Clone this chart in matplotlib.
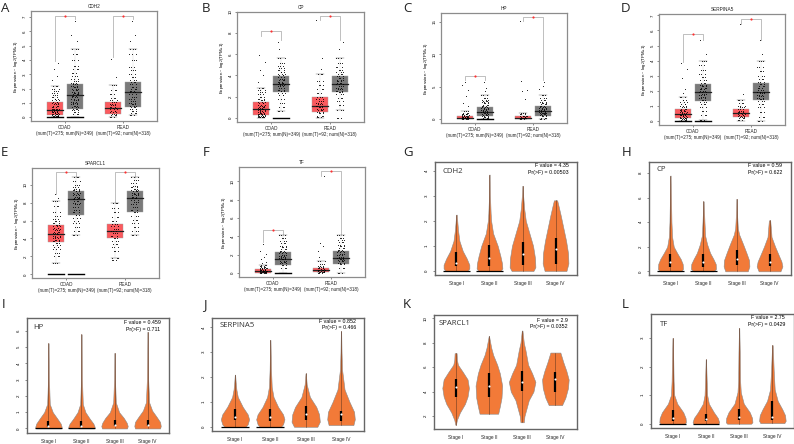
import matplotlib
matplotlib.use("Agg")
import matplotlib.pyplot as plt

plt.rcParams['font.family'] = ['Liberation Sans', 'DejaVu Sans']

W, H = 794, 444
# ---------- box panels: [whisker low, q1, median, q3, whisker high] for COAD T, COAD N, READ T, READ N
CDH2_box = [[0, .18, .5, 1.05, 2.2], [0, .6, 1.55, 2.3, 4.8], [0, .2, .63, 1.05, 2.25], [.15, .7, 1.77, 2.45, 4.8]]
CP_box = [[0, .28, .8, 1.45, 2.85], [.6, 2.4, 3.2, 3.95, 5.65], [0, .55, 1.07, 2.0, 4.1], [.75, 2.4, 3.2, 3.95, 5.65]]
HP_box = [[0, 0, .15, .5, 1.3], [0, .5, 1.1, 1.9, 3.7], [0, 0, .2, .5, 1.0], [0, .5, 1.3, 2.0, 3.7]]
SERPINA5_box = [[0, .2, .45, .8, 1.6], [.1, 1.3, 1.9, 2.45, 4.0], [0, .3, .53, .8, 1.4], [0, 1.4, 1.95, 2.5, 4.0]]
SPARCL1_box = [[1.3, 3.6, 4.55, 5.45, 8.2], [4.35, 6.6, 8.4, 9.25, 10.85], [1.85, 4.0, 4.85, 5.65, 7.95], [4.35, 6.9, 8.55, 9.3, 10.85]]
TF_box = [[0, 0, .18, .4, .9], [0, .9, 1.55, 2.3, 4.1], [.07, .07, .28, .6, 1.3], [0, 1.0, 1.63, 2.4, 4.1]]

CDH2_pts = [
    [.05, .08, .1, .15, .2, .25, .3, .35, .4, .45, .5, .55, .6, .7, .8, .9, 1, 1.1, 1.2, 1.3, 1.4, 1.55, 1.7, 1.85, 2, 2.2, 2.6, 2.9, 3.35, 3.8],
    [.05, .2, .4, .5, .6, .7, .8, .9, 1, 1.1, 1.2, 1.3, 1.4, 1.5, 1.6, 1.7, 1.8, 1.9, 2, 2.1, 2.2, 2.3, 2.4, 2.55, 2.7, 2.9, 3.1, 3.4, 3.6, 4.0, 4.4, 4.8, 5.35, 5.75, 6.75],
    [.05, .15, .25, .35, .45, .55, .65, .75, .85, .95, 1.05, 1.2, 1.35, 1.6, 1.9, 2.25, 2.8, 4.1],
    [.15, .3, .45, .6, .7, .8, .9, 1, 1.15, 1.3, 1.45, 1.6, 1.75, 1.85, 2, 2.15, 2.3, 2.45, 2.6, 2.8, 3, 3.3, 3.5, 4, 4.4, 4.8, 5.35, 5.75, 6.75],
]
CP_pts = [
    [.02, .05, .08, .12, .18, .25, .3, .35, .45, .55, .6, .7, .8, .9, 1, 1.1, 1.2, 1.35, 1.5, 1.65, 1.8, 2, 2.2, 2.4, 2.6, 2.85, 3.4, 4, 4.55, 5.25, 5.9],
    [.6, 1, 1.4, 1.8, 2.1, 2.3, 2.5, 2.65, 2.8, 2.95, 3.05, 3.2, 3.3, 3.4, 3.55, 3.7, 3.85, 4, 4.15, 4.3, 4.5, 4.7, 4.9, 5.2, 5.65, 6.5, 7.2],
    [.05, .2, .4, .55, .7, .85, 1, 1.1, 1.25, 1.4, 1.6, 1.8, 2, 2.3, 2.7, 3.1, 3.5, 4.1, 4.6, 5.6, 9.2],
    [0, .75, 1.2, 1.6, 1.9, 2.2, 2.4, 2.55, 2.7, 2.85, 3, 3.15, 3.3, 3.45, 3.6, 3.8, 3.95, 4.1, 4.3, 4.5, 4.8, 5.2, 5.65, 6.5, 7.2],
]
HP_pts = [
    [.02, .05, .08, .1, .15, .2, .25, .3, .35, .4, .5, .6, .7, .8, 1, 1.3, 2, 2.5, 3.5, 4.5, 5.3, 5.8],
    [.05, .2, .35, .5, .65, .8, .95, 1.1, 1.25, 1.4, 1.55, 1.7, 1.85, 2, 2.2, 2.4, 2.6, 2.8, 3, 3.3, 3.7, 4.3, 4.8, 5.8],
    [.03, .08, .15, .2, .3, .4, .5, .7, 1, 3.1, 4.3, 4.5, 5.9, 15.1],
    [.05, .2, .4, .55, .7, .85, 1, 1.15, 1.3, 1.45, 1.6, 1.75, 1.9, 2.05, 2.25, 2.45, 2.7, 3, 3.3, 3.7, 4.6, 5.1, 5.8],
]
SERPINA5_pts = [
    [.03, .08, .12, .18, .22, .28, .33, .38, .43, .5, .55, .6, .68, .75, .82, .9, 1, 1.1, 1.25, 1.4, 1.6, 1.85, 2.15, 2.85, 3.45, 3.85],
    [.1, .4, .7, .95, 1.1, 1.25, 1.4, 1.5, 1.6, 1.7, 1.8, 1.9, 2, 2.1, 2.2, 2.3, 2.4, 2.55, 2.7, 2.9, 3.1, 3.4, 3.7, 4, 4.45, 5.4],
    [.1, .2, .3, .35, .42, .5, .55, .62, .7, .8, .9, 1, 1.2, 1.4, 1.8, 6.4],
    [0, .3, .6, .9, 1.15, 1.3, 1.45, 1.55, 1.65, 1.75, 1.85, 1.95, 2.05, 2.2, 2.3, 2.45, 2.6, 2.8, 3, 3.3, 3.6, 4, 4.45, 5.4],
]
SPARCL1_pts = [
    [1.3, 2, 2.4, 2.8, 3.1, 3.3, 3.5, 3.7, 3.85, 4, 4.15, 4.3, 4.45, 4.6, 4.75, 4.9, 5.05, 5.2, 5.35, 5.5, 5.7, 5.95, 6.2, 6.5, 7, 7.6, 8.2, 8.55, 9],
    [4.35, 4.8, 5.3, 5.7, 6, 6.3, 6.6, 6.9, 7.2, 7.5, 7.8, 8, 8.2, 8.35, 8.5, 8.65, 8.8, 8.95, 9.1, 9.25, 9.4, 9.55, 9.75, 10, 10.4, 10.85],
    [1.55, 1.85, 2.6, 3, 3.4, 3.7, 4, 4.3, 4.6, 4.85, 5.1, 5.4, 5.65, 6, 6.4, 6.9, 7.4, 7.95],
    [4.35, 4.8, 5.3, 5.7, 6.1, 6.5, 6.9, 7.2, 7.5, 7.8, 8.1, 8.3, 8.5, 8.65, 8.8, 8.95, 9.1, 9.25, 9.4, 9.55, 9.7, 9.9, 10.2, 10.5, 10.85],
]
TF_pts = [
    [.02, .05, .08, .1, .15, .2, .25, .3, .35, .4, .5, .6, .7, .8, .9, 1.05, 1.2, 1.5, 1.75, 2.1, 2.45, 3.2],
    [.05, .5, .9, 1.05, 1.2, 1.35, 1.5, 1.6, 1.7, 1.85, 2, 2.15, 2.3, 2.45, 2.6, 2.8, 3, 3.25, 3.5, 3.8, 4.1],
    [.05, .1, .15, .2, .28, .35, .45, .55, .65, .8, 1, 1.3, 1.7, 2.45, 3, 3.25, 10.6],
    [.05, .5, 1, 1.15, 1.3, 1.45, 1.55, 1.65, 1.8, 1.95, 2.1, 2.25, 2.4, 2.55, 2.7, 2.9, 3.1, 3.35, 3.6, 3.85, 4.1],
]
# which boxes have a heavy run of zero-valued samples
CDH2_zero = [1, 1, 0, 0]
CP_zero = [0, 1, 0, 0]
HP_zero = [0, 1, 0, 0]
SERPINA5_zero = [1, 1, 0, 0]
SPARCL1_zero = [1, 1, 0, 0]
TF_zero = [0, 1, 0, 0]
# significance brackets: top, left leg end, right leg end for COAD and READ
CDH2_sig = [[7.1, 3.9, 6.9], [7.1, 4.2, 6.9]]
CP_sig = [[8.2, 7.7, 7.35], [9.65, 9.2, 7.35]]
HP_sig = [[6.65, 6.1, 6.1], [15.8, 15.1, 6.1]]
SERPINA5_sig = [[5.75, 3.9, 5.4], [6.75, 6.4, 5.4]]
SPARCL1_sig = [[11.4, 9.0, 10.9], [11.4, 7.95, 10.9]]
TF_sig = [[4.7, 3.35, 4.15], [11.1, 10.6, 4.15]]
cohort_labels = ["COAD\n(num(T)=275; num(N)=349)", "READ\n(num(T)=92; num(N)=318)"]

# ---------- violin panels
stage_labels = ["Stage I", "Stage II", "Stage III", "Stage IV"]
CDH2_vy = [[0, .1, .25, .5, .8, 1.2, 1.6, 1.9, 2.25],
           [0, .1, .3, .6, 1, 1.5, 2, 2.3, 3, 3.85],
           [0, .15, .5, 1, 1.5, 2, 2.5, 3, 3.4],
           [0, .3, .7, 1.2, 1.7, 2.2, 2.6, 2.82]]
CDH2_vw = [[.33, .39, .39, .31, .19, .09, .05, .03, .01],
           [.33, .39, .38, .33, .25, .11, .05, .035, .015, .005],
           [.33, .39, .38, .32, .21, .1, .05, .02, .005],
           [.33, .39, .38, .32, .24, .16, .09, .05]]
CDH2_q = [[.2, .3, .77], [.2, .52, 1.03], [.23, .67, 1.15], [.28, .87, 1.3]]
CP_vy = [[0, .2, .6, 1, 1.5, 2, 2.8, 4, 5.5, 7.8],
         [0, .2, .6, 1, 1.5, 2.2, 2.9, 4, 5.7],
         [0, .4, .9, 1.5, 2.2, 3, 3.5, 4.5, 5.9],
         [0, .4, .8, 1.3, 2, 2.8, 3.2, 4.15]]
CP_vw = [[.32, .38, .37, .31, .2, .1, .05, .03, .02, .005],
         [.3, .38, .37, .3, .2, .11, .05, .03, .005],
         [.34, .39, .38, .3, .2, .08, .04, .02, .005],
         [.33, .39, .36, .28, .17, .06, .05, .02]]
CP_q = [[.38, .73, 1.43], [.38, .73, 1.43], [.49, 1.0, 1.7], [.43, .76, 1.43]]
HP_vy = [[0, .1, .3, .6, 1, 1.5, 3, 5.25],
         [0, .1, .3, .6, 1, 1.5, 3, 5.8],
         [0, .15, .35, .65, 1, 1.6, 3, 4.65],
         [0, .15, .4, .7, 1.1, 1.6, 3, 5.95]]
HP_vw = [[.38, .4, .37, .27, .13, .04, .015, .004],
         [.38, .4, .36, .25, .12, .04, .015, .004],
         [.38, .4, .37, .28, .14, .04, .015, .004],
         [.38, .4, .38, .28, .14, .05, .02, .004]]
HP_q = [[.08, .15, .43], [.08, .15, .43], [.15, .23, .5], [.15, .23, .52]]
SERPINA5_vy = [[0, .1, .3, .5, .8, 1.2, 1.5, 1.8, 2.1],
               [0, .1, .3, .5, .8, 1.2, 1.6, 2.3, 3.5],
               [0, .2, .5, .8, 1.2, 1.7, 2.15],
               [.07, .3, .6, 1, 1.5, 2.3, 3, 3.85]]
SERPINA5_vw = [[.3, .36, .4, .36, .22, .08, .04, .02, .005],
               [.3, .36, .4, .36, .22, .09, .04, .02, .004],
               [.33, .4, .38, .3, .12, .03, .005],
               [.35, .39, .37, .24, .1, .03, .015, .005]]
SERPINA5_q = [[.28, .4, .73], [.24, .39, .72], [.27, .52, .84], [.25, .5, .65]]
SPARCL1_vy = [[1.3, 1.7, 2.3, 3, 3.6, 4.3, 5, 5.6, 6.2, 6.6, 7.15],
              [2.2, 2.8, 3.5, 4.5, 5.5, 6.2, 7, 7.6, 8.55],
              [1.5, 2, 2.6, 3.3, 4, 4.8, 5.5, 6.2, 6.8, 7.4, 8, 9],
              [2.9, 3.5, 4.3, 5, 5.7, 6.4, 7.2]]
SPARCL1_vw = [[.01, .04, .13, .28, .36, .4, .36, .22, .07, .04, .03],
              [.28, .33, .38, .4, .33, .25, .13, .07, .005],
              [.05, .07, .13, .2, .34, .4, .3, .18, .14, .1, .05, .01],
              [.2, .3, .38, .4, .33, .24, .15]]
SPARCL1_q = [[3.6, 4.35, 5.05], [3.53, 4.45, 5.5], [4.05, 4.8, 5.7], [3.95, 5.0, 5.65]]
TF_vy = [[0, .05, .2, .4, .7, 1, 1.5, 2.2, 3],
         [0, .05, .2, .4, .7, 1, 1.5, 2.25],
         [0, .05, .2, .4, .7, 1.1, 1.5, 2.5, 3.35],
         [.02, .1, .3, .5, .8, 1.2, 1.85, 2.75]]
TF_vw = [[.36, .4, .39, .32, .14, .05, .03, .02, .005],
         [.37, .4, .36, .24, .09, .04, .025, .005],
         [.36, .4, .39, .32, .14, .05, .03, .02, .005],
         [.36, .4, .38, .3, .16, .07, .04, .01]]
TF_q = [[.1, .19, .47], [.09, .17, .35], [.12, .22, .5], [.14, .24, .81]]
# F statistics
CDH2_f = ["F value = 4.35", "Pr(>F) = 0.00503"]
CP_f = ["F value = 0.59", "Pr(>F) = 0.622"]
HP_f = ["F value = 0.459", "Pr(>F) = 0.711"]
SERPINA5_f = ["F value = 0.852", "Pr(>F) = 0.466"]
SPARCL1_f = ["F value = 2.9", "Pr(>F) = 0.0352"]
TF_f = ["F value = 2.75", "Pr(>F) = 0.0429"]

RED, GREY = "#fb5a5e", "#7a7a7a"
ORANGE = "#f27a38"

fig = plt.figure(figsize=(W / 100, H / 100), dpi=100, facecolor="white")


def make_axes(x0, x1, y0, y1, color, lw):
    ax = fig.add_axes([x0 / W, 1 - y1 / H, (x1 - x0) / W, (y1 - y0) / H])
    for s in ax.spines.values():
        s.set_color(color)
        s.set_linewidth(lw)
    return ax


JIT_A = [-.05, .03, -.02, .055, -.035, .015, .045, -.06, .0, .025, -.015, .06, -.045]
JIT_B = [.02, -.04, .05, -.01, .035, -.055, .005, .04, -.03, -.06, .055, -.02, .01]
JIT_C = [-.03, .05, .01, -.05, .025, .06, -.01, -.04, .04, -.025, .015, -.06, .03]


def box_panel(frame, ylim, ticks, name, boxes, pts, zeros, sig):
    ax = make_axes(*frame, "#8c8c8c", 0.9)
    ax.set_xlim(.414, 2.586)
    ax.set_ylim(*ylim)
    pos = [.83, 1.17, 1.83, 2.17]
    for i, (b, p) in enumerate(zip(boxes, pts)):
        c = RED if i % 2 == 0 else GREY
        x = pos[i]
        ax.bar(x, b[3] - b[1], bottom=b[1], width=.275, color=c, edgecolor="#a0a0a0",
               linewidth=.3, zorder=2)
        ax.plot([x - .137, x + .137], [b[2], b[2]], color="#202020", lw=.9, zorder=4)
        ax.plot([x, x], [b[0], b[1]], color="#999999", lw=.3, ls=":", zorder=2)
        ax.plot([x, x], [b[3], b[4]], color="#999999", lw=.3, ls=":", zorder=2)
        for w in (b[0], b[4]):
            ax.plot([x - .07, x + .07], [w, w], color="#555555", lw=.3, zorder=3)
        # outliers once; samples inside the whiskers repeated with other offsets for the dense cloud
        ax.scatter([x + JIT_A[k % 13] for k in range(len(p))], p, s=.55, c="black",
                   linewidths=0, zorder=5)
        inner = [v for v in p if v <= b[4]]
        for jit in (JIT_B, JIT_C):
            ax.scatter([x + jit[k % 13] for k in range(len(inner))], inner, s=.55, c="black",
                       linewidths=0, zorder=5)
        if zeros[i]:
            ax.plot([x - .137, x + .137], [0, 0], color="black", lw=1.0, zorder=5)
    for k, (top, l, r) in enumerate(sig):
        xa, xb = pos[2 * k], pos[2 * k + 1]
        ax.plot([xa, xa, xb, xb], [l, top, top, r], color="#b4b4b4", lw=.6, zorder=1)
        ax.scatter([(xa + xb) / 2], [top], s=2.5, c="#ff3030", linewidths=0, zorder=6)
    ax.set_xticks([1, 2], cohort_labels, fontsize=3.3, color="#222222", linespacing=1.15)
    ax.set_yticks(ticks, [str(t) for t in ticks], fontsize=3.2, rotation=90, va="center")
    ax.tick_params(length=1.5, width=.4, pad=1.5, color="#333333")
    ax.set_ylabel("Expression – log$_2$(TPM+1)", fontsize=3.2, labelpad=2)
    ax.set_title(name, fontsize=3.4, pad=2, color="#222222")


def violin_panel(frame, ylim, ticks, name, vy, vw, q, ftxt, name_xy, f_xy):
    ax = make_axes(*frame, "#666666", 1.0)
    ax.set_xlim(.35, 4.65)
    ax.set_ylim(*ylim)
    for i in range(4):
        x = i + 1
        ys, ws = vy[i], vw[i]
        ax.fill_betweenx(ys, [x - w for w in ws], [x + w for w in ws], facecolor=ORANGE,
                         edgecolor="#8a8a8a", linewidth=.4, zorder=2)
        ax.plot([x, x], [ys[0], ys[-1]], color="#6a3a20", lw=.4, zorder=3)
        ax.plot([x, x], [q[i][0], q[i][2]], color="black", lw=1.6, solid_capstyle="butt", zorder=4)
        ax.scatter([x], [q[i][1]], s=2.4, c="white", linewidths=0, zorder=5)
    ax.set_xticks([1, 2, 3, 4], stage_labels, fontsize=3.4, color="#222222")
    ax.set_yticks(ticks, [str(t) for t in ticks], fontsize=3.2, rotation=90, va="center")
    ax.tick_params(axis="x", length=0, pad=4)
    ax.tick_params(axis="y", length=1.5, width=.4, pad=3, color="#333333")
    ax.text(*name_xy, name, transform=ax.transAxes, fontsize=5.6, va="center", ha="left",
            color="#333333", family=["Open Sans", "DejaVu Sans"])
    ax.text(f_xy[0], f_xy[1], ftxt[0], transform=ax.transAxes, fontsize=3.8, va="center", ha="right")
    ax.text(f_xy[0], f_xy[1] - .058, ftxt[1], transform=ax.transAxes, fontsize=3.8, va="center", ha="right")
    return ax


box_panel((31, 157, 11, 121), (-.26, 7.43), [0, 1, 2, 3, 4, 5, 6, 7], "CDH2", CDH2_box, CDH2_pts, CDH2_zero, CDH2_sig)
box_panel((237, 364, 12, 122), (-.41, 9.97), [0, 2, 4, 6, 8, 10], "CP", CP_box, CP_pts, CP_zero, CP_sig)
box_panel((441, 567, 13, 123), (-.62, 16.4), [0, 5, 10, 15], "HP", HP_box, HP_pts, HP_zero, HP_sig)
box_panel((659, 785, 14, 125), (-.26, 7.09), [0, 1, 2, 3, 4, 5, 6, 7], "SERPINA5", SERPINA5_box, SERPINA5_pts, SERPINA5_zero, SERPINA5_sig)
box_panel((32, 159, 168, 278), (-.41, 11.86), [0, 2, 4, 6, 8, 10], "SPARCL1", SPARCL1_box, SPARCL1_pts, SPARCL1_zero, SPARCL1_sig)
box_panel((239, 365, 167, 277), (-.43, 11.56), [0, 2, 4, 6, 8, 10], "TF", TF_box, TF_pts, TF_zero, TF_sig)

axG = violin_panel((435, 577, 162, 275), (-.16, 4.35), [0, 1, 2, 3, 4], "CDH2", CDH2_vy, CDH2_vw, CDH2_q, CDH2_f, (.05, .92), (.944, .967))
axH = violin_panel((649, 791, 162, 275), (-.3, 8.9), [0, 2, 4, 6, 8], "CP", CP_vy, CP_vw, CP_q, CP_f, (.05, .93), (.94, .967))
axI = violin_panel((27, 169, 318, 433), (-.28, 6.8), [0, 1, 2, 3, 4, 5, 6], "HP", HP_vy, HP_vw, HP_q, HP_f, (.045, .92), (.94, .96))
axJ = violin_panel((212, 364, 318, 431), (-.17, 4.38), [0, 1, 2, 3, 4], "SERPINA5", SERPINA5_vy, SERPINA5_vw, SERPINA5_q, SERPINA5_f, (.05, .93), (.947, .97))
axK = violin_panel((434, 577, 315, 429), (.95, 10.27), [2, 4, 6, 8, 10], "SPARCL1", SPARCL1_vy, SPARCL1_vw, SPARCL1_q, SPARCL1_f, (.03, .925), (.937, .956))
axL = violin_panel((651, 794, 314, 428), (-.15, 3.84), [0, 1, 2, 3], "TF", TF_vy, TF_vw, TF_q, TF_f, (.065, .91), (.937, .965))

# zero baselines of the truncated violins
for ax, flags in ((axG, [1, 1, 0, 0]), (axH, [1, 1, 0, 0]), (axI, [1, 1, 0, 0]), (axJ, [1, 1, 0, 0]), (axL, [1, 1, 0, 0])):
    for i, f in enumerate(flags):
        if f:
            ax.plot([i + .6, i + 1.4], [0, 0], color="black", lw=.9, zorder=4, solid_capstyle="butt")

panel_letters = ["A", "B", "C", "D", "E", "F", "G", "H", "I", "J", "K", "L"]
letter_x = [1, 202, 403, 621, 1, 203, 403, 622, 2, 203, 403, 622]
letter_y = [8, 8, 8, 8, 153, 153, 153, 153, 305, 305, 305, 305]
for t, x, y in zip(panel_letters, letter_x, letter_y):
    fig.text(x / W, 1 - y / H, t, fontsize=9.5, va="center", ha="left", color="#222222",
             family=["Open Sans", "DejaVu Sans"])

fig.savefig("out.png", dpi=100)
